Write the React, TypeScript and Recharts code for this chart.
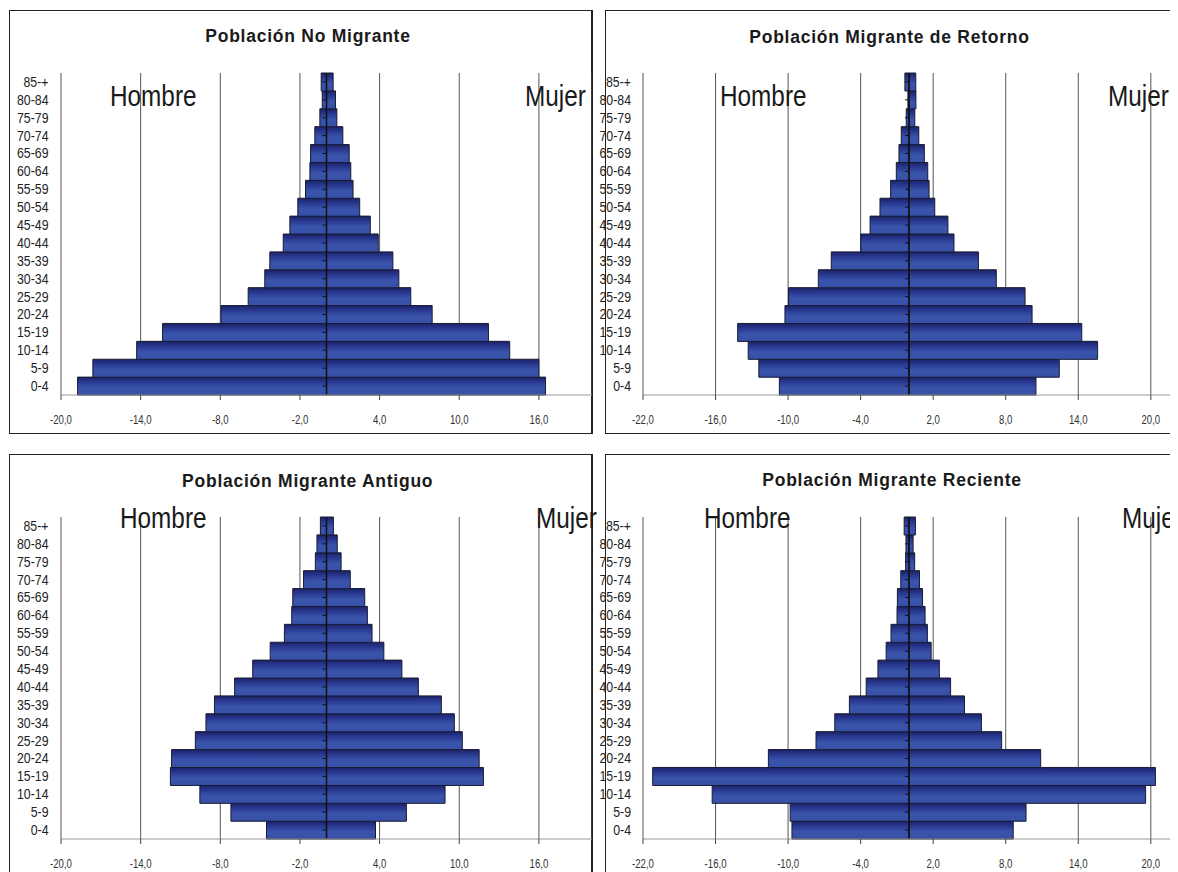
import React from 'react';
import { BarChart, Bar, XAxis, YAxis, CartesianGrid, ReferenceLine } from 'recharts';

const ageGroups = ['0-4', '5-9', '10-14', '15-19', '20-24', '25-29', '30-34', '35-39', '40-44', '45-49', '50-54', '55-59', '60-64', '65-69', '70-74', '75-79', '80-84', '85-+'];

const noMigranteHombre = [-18.75, -17.6, -14.3, -12.35, -7.95, -5.9, -4.65, -4.27, -3.26, -2.76, -2.16, -1.58, -1.25, -1.2, -0.88, -0.5, -0.32, -0.4];
const noMigranteMujer = [16.5, 16.0, 13.8, 12.2, 7.96, 6.35, 5.45, 5.0, 3.9, 3.3, 2.5, 2.0, 1.83, 1.71, 1.23, 0.78, 0.68, 0.5];

const retornoHombre = [-10.72, -12.42, -13.3, -14.17, -10.26, -9.96, -7.5, -6.43, -3.99, -3.22, -2.4, -1.52, -1.05, -0.83, -0.64, -0.23, -0.09, -0.34];
const retornoMujer = [10.5, 12.43, 15.6, 14.29, 10.18, 9.6, 7.22, 5.74, 3.72, 3.22, 2.13, 1.66, 1.55, 1.27, 0.81, 0.48, 0.57, 0.56];

const antiguoHombre = [-4.52, -7.2, -9.54, -11.76, -11.67, -9.88, -9.08, -8.44, -6.92, -5.56, -4.24, -3.17, -2.62, -2.54, -1.73, -0.84, -0.72, -0.46];
const antiguoMujer = [3.69, 6.02, 8.93, 11.82, 11.5, 10.23, 9.63, 8.65, 6.92, 5.68, 4.32, 3.43, 3.08, 2.88, 1.79, 1.1, 0.81, 0.52];

const recienteHombre = [-9.68, -9.83, -16.28, -21.2, -11.63, -7.69, -6.14, -4.93, -3.54, -2.57, -1.89, -1.49, -0.99, -0.96, -0.68, -0.28, -0.25, -0.4];
const recienteMujer = [8.62, 9.68, 19.57, 20.38, 10.89, 7.66, 5.99, 4.59, 3.44, 2.51, 1.83, 1.52, 1.33, 1.12, 0.87, 0.47, 0.34, 0.53];

const ticksA = [-20, -14, -8, -2, 4, 10, 16];
const ticksB = [-22, -16, -10, -4, 2, 8, 14, 20];
const domainA: [number, number] = [-20, 20];
const domainB: [number, number] = [-22, 22];

const titles = ['Población No Migrante', 'Población Migrante de Retorno', 'Población Migrante Antiguo', 'Población Migrante Reciente'];
const sexLabels = ['Hombre', 'Mujer'];

const SANS = '"Liberation Sans", Arial, sans-serif';

const fmt = (v: number) => v.toFixed(1).replace('.', ',');

const XTick = (props: any) => {
  const { x, y, payload } = props;
  return (
    <text
      transform={`translate(${x},${y}) scale(0.8,1)`}
      x={0}
      y={0}
      dy="0.71em"
      textAnchor="middle"
      fontFamily={SANS}
      fontSize={12}
      fill="#333"
    >
      {fmt(payload.value)}
    </text>
  );
};

const YTick = (props: any) => {
  const { x, y, payload } = props;
  return (
    <text
      transform={`translate(${x},${y}) scale(0.88,1)`}
      x={0}
      y={0}
      dy="0.355em"
      textAnchor="end"
      fontFamily={SANS}
      fontSize={14}
      fill="#222"
    >
      {payload.value}
    </text>
  );
};

type PyrProps = {
  id: string;
  left: number;
  top: number;
  width: number;
  height: number;
  yAxisWidth: number;
  labelMargin: number;
  domain: [number, number];
  ticks: number[];
  hombre: number[];
  mujer: number[];
};

function Pyramid({ id, left, top, width, height, yAxisWidth, labelMargin, domain, ticks, hombre, mujer }: PyrProps) {
  const data = ageGroups.map((g, i) => ({ age: g, hombre: hombre[i], mujer: mujer[i] }));
  const plotWidth = width - yAxisWidth;
  const tickUnits = (4 * (domain[1] - domain[0])) / plotWidth;
  return (
    <div style={{ position: 'absolute', left: left - 8, top: top - 8, width, height }}>
      <BarChart
        width={width}
        height={height}
        data={data}
        layout="vertical"
        stackOffset="sign"
        barCategoryGap={0}
        barGap={0}
        margin={{ top: 63, right: 0, bottom: 0, left: 0 }}
      >
        <defs>
          <linearGradient id={id} x1="0" y1="0" x2="0" y2="1">
            <stop offset="0" stopColor="#1b2268" />
            <stop offset="0.3" stopColor="#2a3b93" />
            <stop offset="0.6" stopColor="#3a54ab" />
            <stop offset="1" stopColor="#3550a6" />
          </linearGradient>
        </defs>
        <CartesianGrid horizontal={false} stroke="#555" />
        <XAxis
          type="number"
          domain={domain}
          ticks={ticks}
          interval={0}
          allowDataOverflow
          height={39}
          tick={<XTick />}
          axisLine={{ stroke: '#999' }}
          tickLine={{ stroke: '#444' }}
          tickSize={5}
          tickMargin={15}
        />
        <YAxis
          type="category"
          dataKey="age"
          reversed
          width={yAxisWidth}
          axisLine={false}
          tickLine={false}
          tickSize={0}
          tickMargin={labelMargin}
          interval={0}
          tick={<YTick />}
        />
        <Bar dataKey="hombre" stackId="s" fill={`url(#${id})`} stroke="#1a1a33" strokeWidth={1} isAnimationActive={false} />
        <Bar dataKey="mujer" stackId="s" fill={`url(#${id})`} stroke="#1a1a33" strokeWidth={1} isAnimationActive={false} />
        <ReferenceLine x={0} stroke="#111" strokeWidth={1.5} />
        {ageGroups.map((g) => (
          <ReferenceLine
            key={g}
            segment={[
              { x: -tickUnits, y: g },
              { x: 0, y: g },
            ]}
            stroke="#111"
            strokeWidth={1}
          />
        ))}
      </BarChart>
    </div>
  );
}

const boxStyle = (left: number, top: number, width: number, height: number, right = 1): React.CSSProperties => ({
  position: 'absolute',
  left: left - 8,
  top: top - 8,
  width,
  height,
  boxSizing: 'border-box',
  borderStyle: 'solid',
  borderColor: '#222',
  borderWidth: `1px ${right}px 1px 1px`,
  background: '#fff',
});

function SexLabel({ x, y, text }: { x: number; y: number; text: string }) {
  return (
    <text transform={`translate(${x},${y}) scale(0.825,1)`} x={0} y={0} fontFamily={SANS} fontSize={29.5} fill="#1a1a1a">
      {text}
    </text>
  );
}

export default function App() {
  const titleStyle = { fontFamily: SANS, fontWeight: 700, fontSize: 17.5, fill: '#1a1a1a', letterSpacing: 0.75 } as React.CSSProperties;
  return (
    <div style={{ position: 'relative', width: 1170, height: 864, overflow: 'hidden', background: '#fff' }}>
      <div style={boxStyle(9, 10, 584, 424, 2)} />
      <div style={boxStyle(605, 10, 600, 424)} />
      <div style={boxStyle(9, 454, 584, 430, 2)} />
      <div style={boxStyle(605, 454, 600, 430)} />

      <Pyramid id="g1" left={9} top={10} width={583} height={424} yAxisWidth={52} labelMargin={12.5} domain={domainA} ticks={ticksA} hombre={noMigranteHombre} mujer={noMigranteMujer} />
      <Pyramid id="g2" left={590} top={10} width={585} height={424} yAxisWidth={53} labelMargin={12} domain={domainB} ticks={ticksB} hombre={retornoHombre} mujer={retornoMujer} />
      <Pyramid id="g3" left={9} top={454} width={583} height={424} yAxisWidth={52} labelMargin={12.5} domain={domainA} ticks={ticksA} hombre={antiguoHombre} mujer={antiguoMujer} />
      <Pyramid id="g4" left={590} top={454} width={585} height={424} yAxisWidth={53} labelMargin={12} domain={domainB} ticks={ticksB} hombre={recienteHombre} mujer={recienteMujer} />

      <svg width={1170} height={864} style={{ position: 'absolute', left: 0, top: 0, pointerEvents: 'none' }}>
        <g transform="translate(-8,-8)">
          <text x={308} y={42} textAnchor="middle" style={titleStyle}>{titles[0]}</text>
          <text x={889.5} y={42.5} textAnchor="middle" style={titleStyle}>{titles[1]}</text>
          <text x={307.7} y={486.5} textAnchor="middle" style={titleStyle}>{titles[2]}</text>
          <text x={892} y={485.5} textAnchor="middle" style={titleStyle}>{titles[3]}</text>

          <SexLabel x={110} y={106} text={sexLabels[0]} />
          <SexLabel x={525} y={106} text={sexLabels[1]} />
          <SexLabel x={720} y={106} text={sexLabels[0]} />
          <SexLabel x={1108} y={106} text={sexLabels[1]} />
          <SexLabel x={120} y={528} text={sexLabels[0]} />
          <SexLabel x={536} y={528} text={sexLabels[1]} />
          <SexLabel x={704} y={528} text={sexLabels[0]} />
          <SexLabel x={1122} y={528} text={sexLabels[1]} />
        </g>
      </svg>
    </div>
  );
}
